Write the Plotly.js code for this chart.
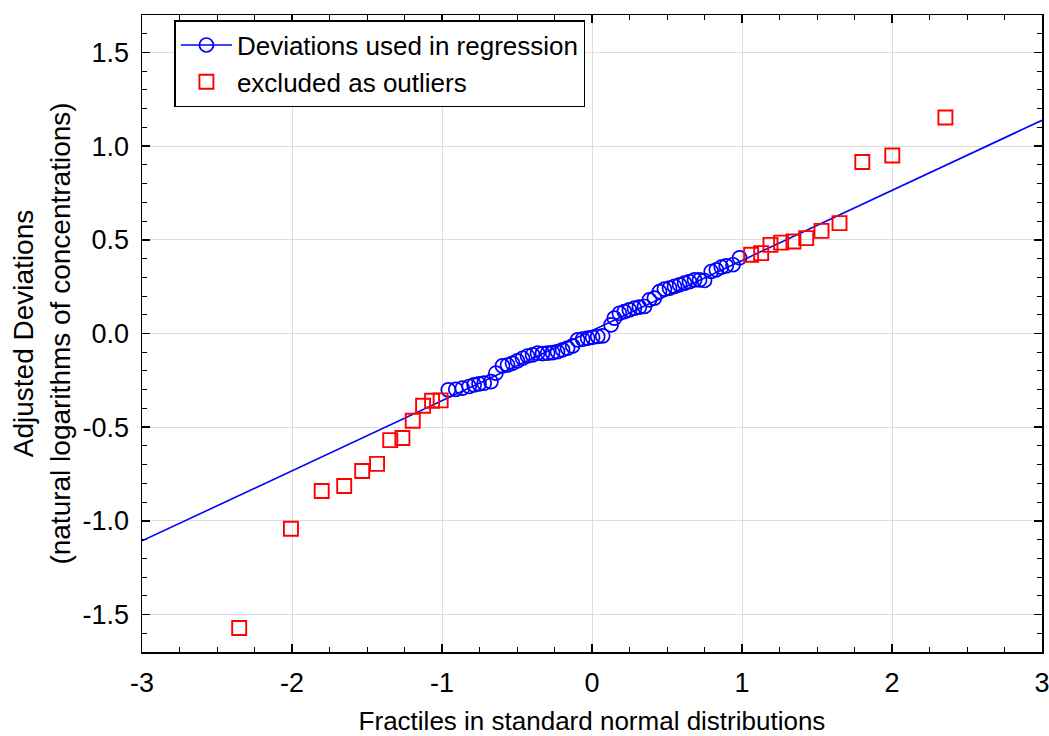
<!DOCTYPE html>
<html>
<head>
<meta charset="utf-8">
<script src="https://cdn.plot.ly/plotly-3.0.1.min.js"></script>
<style>html,body{margin:0;padding:0;background:#fff;}#chart{width:1049px;height:736px;}</style>
</head>
<body>
<div id="chart"></div>
<script>
// Deviations used in regression (blue circles)
const usedX = [-0.958,-0.908,-0.864,-0.819,-0.786,-0.753,-0.719,-0.674,-0.641,-0.597,-0.563,-0.530,-0.497,-0.463,-0.430,-0.396,-0.363,-0.330,-0.296,-0.263,-0.230,-0.196,-0.163,-0.129,-0.096,-0.062,-0.029,0.004,0.038,0.071,0.127,0.149,0.183,0.216,0.249,0.283,0.316,0.350,0.383,0.416,0.450,0.483,0.517,0.550,0.584,0.617,0.650,0.684,0.717,0.750,0.795,0.829,0.862,0.895,0.940,0.984];
const usedY = [-0.301,-0.298,-0.292,-0.283,-0.274,-0.269,-0.265,-0.257,-0.212,-0.173,-0.168,-0.159,-0.146,-0.132,-0.120,-0.114,-0.105,-0.107,-0.105,-0.102,-0.097,-0.087,-0.078,-0.066,-0.034,-0.030,-0.025,-0.020,-0.016,-0.013,0.046,0.082,0.108,0.117,0.126,0.135,0.141,0.144,0.180,0.189,0.224,0.237,0.242,0.251,0.260,0.269,0.277,0.286,0.286,0.283,0.331,0.340,0.354,0.361,0.367,0.404];
// Excluded as outliers (red squares)
const outX = [-2.352,-2.007,-1.802,-1.652,-1.532,-1.433,-1.345,-1.264,-1.195,-1.126,-1.066,-1.009,1.061,1.128,1.190,1.261,1.343,1.428,1.530,1.650,1.802,2.002,2.356];
const outY = [-1.572,-1.042,-0.841,-0.814,-0.734,-0.696,-0.569,-0.558,-0.466,-0.386,-0.359,-0.357,0.420,0.429,0.473,0.485,0.491,0.509,0.548,0.589,0.915,0.950,1.153];
// Regression line end points
const lineX = [-3, 3];
const lineY = [-1.107, 1.138];
// Tick labels
const xTickVals = [-3,-2,-1,0,1,2,3];
const xTickText = ['-3','-2','-1','0','1','2','3'];
const yTickVals = [-1.5,-1.0,-0.5,0.0,0.5,1.0,1.5];
const yTickText = ['-1.5','-1.0','-0.5','0.0','0.5','1.0','1.5'];

const FONT = 'Liberation Sans, Arial, sans-serif';
const blue = '#0000ff', red = '#ff0000';

const traces = [
  {x: lineX, y: lineY, mode: 'lines', line: {color: blue, width: 1.6}, showlegend: false, hoverinfo: 'skip'},
  {x: usedX, y: usedY, mode: 'markers', showlegend: false,
   marker: {symbol: 'circle-open', size: 14, color: blue, line: {color: blue, width: 1.7}}},
  {x: [null], y: [null], mode: 'lines+markers', name: 'Deviations used in regression',
   line: {color: blue, width: 1.6},
   marker: {symbol: 'circle-open', size: 14, color: blue, line: {color: blue, width: 1.7}}},
  {x: outX, y: outY, mode: 'markers', name: 'excluded as outliers',
   marker: {symbol: 'square-open', size: 14, color: red, line: {color: red, width: 1.9}}}
];

const axisCommon = {
  showline: true, linecolor: '#000', linewidth: 1.5, mirror: 'ticks',
  ticks: 'inside', ticklen: 8, tickwidth: 1.5, tickcolor: '#000',
  showgrid: true, gridcolor: '#dcdcdc', gridwidth: 1, zeroline: false,
  ticklabelstandoff: 6, ticklabeloverflow: 'allow',
  tickfont: {family: FONT, size: 27, color: '#000'}
};

const layout = {
  width: 1049, height: 736,
  margin: {l: 142, r: 7, t: 15, b: 84},
  paper_bgcolor: '#fff', plot_bgcolor: '#fff',
  font: {family: FONT, size: 26, color: '#000'},
  xaxis: Object.assign({}, axisCommon, {
    range: [-3, 3], tickmode: 'array', tickvals: xTickVals, ticktext: xTickText,
    minor: {dtick: 0.25, ticks: 'inside', ticklen: 5, tickwidth: 1, tickcolor: '#000', showgrid: false},
    title: {text: 'Fractiles in standard normal distributions', font: {family: FONT, size: 26, color: '#000'}, standoff: 22}
  }),
  yaxis: Object.assign({}, axisCommon, {
    range: [-1.7, 1.7], tickmode: 'array', tickvals: yTickVals, ticktext: yTickText,
    minor: {dtick: 0.1, ticks: 'inside', ticklen: 5, tickwidth: 1, tickcolor: '#000', showgrid: false},
    title: {text: 'Adjusted Deviations<br>(natural logarithms of concentrations)', font: {family: FONT, size: 28, color: '#000'}, standoff: 4}
  }),
  legend: {
    x: 0.036, y: 0.992, xanchor: 'left', yanchor: 'top',
    bgcolor: '#fff', bordercolor: '#000', borderwidth: 1.5,
    font: {family: FONT, size: 26, color: '#000'},
    itemwidth: 51, tracegroupgap: 0
  },
  showlegend: true
};

Plotly.newPlot('chart', traces, layout, {displayModeBar: false, staticPlot: true});
</script>
</body>
</html>
